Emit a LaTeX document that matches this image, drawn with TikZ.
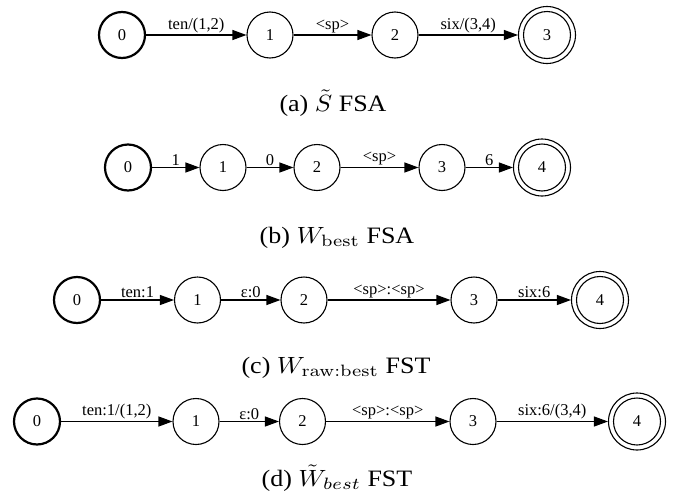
\documentclass[tikz,border=0pt]{standalone}
\usepackage[no-math]{fontspec}
\setmainfont{Liberation Serif}
\usetikzlibrary{arrows.meta}
\tikzset{
  st/.style={circle,draw,line width=1.1pt,minimum size=46pt,inner sep=0pt,font=\fontsize{16.5}{18}\selectfont},
  init/.style={st,line width=2.2pt},
  fin/.style={st,minimum size=57pt,path picture={\draw[line width=1.1pt] (path picture bounding box.center) circle (23.5pt);}},
  edge/.style={line width=1.1pt,-{Triangle[length=14pt,width=10pt]}},
  lab/.style={above,inner sep=1.5pt,font=\fontsize{16.5}{18}\selectfont},
  captxt/.style={font=\fontsize{10}{12}\selectfont,inner sep=0pt,anchor=base,xscale=2.6,yscale=2.35}
}
\begin{document}
\begin{tikzpicture}[x=1pt,y=-1pt]
\useasboundingbox (0,0) rectangle (673,493);
% (a)
\node[init] (a0) at (122,35) {0};
\node[st] (a1) at (270,35) {1};
\node[st] (a2) at (395,35) {2};
\node[fin] (a3) at (547,35) {3};
\draw[edge] (a0) -- node[lab] {ten/(1,2)} (a1);
\draw[edge] (a1) -- node[lab] {<sp>} (a2);
\draw[edge] (a2) -- node[lab] {six/(3,4)} (a3);
\node[captxt] (capa) at (333,111) {(a) $\tilde{S}$ FSA};
% (b)
\node[init] (b0) at (128,167.5) {0};
\node[st] (b1) at (223,167.5) {1};
\node[st] (b2) at (317,167.5) {2};
\node[st] (b3) at (442,167.5) {3};
\node[fin] (b4) at (542,167.5) {4};
\draw[edge] (b0) -- node[lab] {1} (b1);
\draw[edge] (b1) -- node[lab] {0} (b2);
\draw[edge] (b2) -- node[lab] {<sp>} (b3);
\draw[edge] (b3) -- node[lab] {6} (b4);
\node[captxt] (capb) at (337,243) {(b) $W_{\mathrm{best}}$ FSA};
% (c)
\node[init] (c0) at (77,300) {0};
\node[st] (c1) at (197.5,300) {1};
\node[st] (c2) at (304,300) {2};
\node[st] (c3) at (474,300) {3};
\node[fin] (c4) at (600,300) {4};
\draw[edge] (c0) -- node[lab] {ten:1} (c1);
\draw[edge] (c1) -- node[lab] {ε:0} (c2);
\draw[edge] (c2) -- node[lab] {<sp>:<sp>} (c3);
\draw[edge] (c3) -- node[lab] {six:6} (c4);
\node[captxt] (capc) at (336,373) {(c) $W_{\mathrm{raw:best}}$ FST};
% (d)
\node[init] (d0) at (37,421.5) {0};
\node[st] (d1) at (196,421.5) {1};
\node[st] (d2) at (302.5,421.5) {2};
\node[st] (d3) at (473,421.5) {3};
\node[fin] (d4) at (637,421.5) {4};
\draw[edge] (d0) -- node[lab] {ten:1/(1,2)} (d1);
\draw[edge] (d1) -- node[lab] {ε:0} (d2);
\draw[edge] (d2) -- node[lab] {<sp>:<sp>} (d3);
\draw[edge] (d3) -- node[lab] {six:6/(3,4)} (d4);
\node[captxt] (capd) at (337,486) {(d) $\tilde{W}_{best}$ FST};
\end{tikzpicture}
\end{document}
